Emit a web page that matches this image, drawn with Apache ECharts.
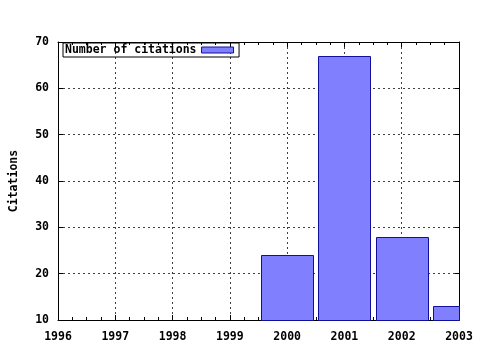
<!DOCTYPE html>
<html>
<head>
<meta charset="utf-8">
<script src="https://cdn.jsdelivr.net/npm/echarts@6/dist/echarts.min.js"></script>
<style>
html,body{margin:0;padding:0;background:#fff;}
#c{width:480px;height:350px;}
</style>
</head>
<body>
<div id="c"></div>
<script>
const years = [2000, 2001, 2002, 2003];
const citations = [24, 67, 28, 13];
const xTicks = [1996, 1997, 1998, 1999, 2000, 2001, 2002, 2003];
const yTicks = [10, 20, 30, 40, 50, 60, 70];
const seriesName = 'Number of citations';
const yTitle = 'Citations';

const font = 'DejaVu Sans Mono';
const fs = 11.5;
const barFrac = 0.915;
const fillColor = '#8080ff';
const edgeColor = '#10109a';
const chart = echarts.init(document.getElementById('c'), null, {renderer: 'canvas'});
const gridLine = {show: true, lineStyle: {color: '#404040', type: [2, 3], width: 1}};
const yMin = yTicks[0];

function renderBar(params, api) {
  const x = api.value(0), y = api.value(1);
  const top = api.coord([x - barFrac / 2, y]);
  const bot = api.coord([x + barFrac / 2, yMin]);
  const cs = params.coordSys;
  const rect = echarts.graphic.clipRectByRect(
    {x: top[0], y: top[1], width: bot[0] - top[0], height: bot[1] - top[1]},
    {x: cs.x, y: cs.y, width: cs.width, height: cs.height}
  );
  if (!rect) return null;
  return {
    type: 'rect',
    shape: {x: Math.round(rect.x) + 0.5, y: Math.round(rect.y) + 0.5, width: Math.round(rect.width), height: Math.round(rect.height)},
    style: {fill: fillColor, stroke: edgeColor, lineWidth: 1}
  };
}

chart.setOption({
  animation: false,
  backgroundColor: '#ffffff',
  grid: {left: 57, right: 21, top: 42, bottom: 30, containLabel: false},
  legend: {
    show: true,
    left: 63, top: 43,
    orient: 'horizontal',
    align: 'right',
    icon: 'rect',
    itemWidth: 32, itemHeight: 6,
    itemGap: 0,
    padding: [1, 5, 1, 2],
    borderColor: '#000', borderWidth: 1,
    itemStyle: {color: fillColor, borderColor: edgeColor, borderWidth: 1},
    textStyle: {fontFamily: font, fontWeight: 'bold', fontSize: fs, color: '#000'},
    data: [seriesName]
  },
  xAxis: [{
    type: 'value', position: 'bottom',
    min: xTicks[0], max: xTicks[xTicks.length - 1], interval: 1,
    axisLine: {onZero: false, lineStyle: {color: '#000', width: 1}},
    axisTick: {inside: true, length: 5, lineStyle: {color: '#000'}},
    minorTick: {show: true, splitNumber: 4, length: 3, lineStyle: {color: '#000'}},
    axisLabel: {margin: 11, fontFamily: font, fontWeight: 'bold', fontSize: fs, color: '#000', formatter: v => String(v)},
    splitLine: gridLine
  }, {
    type: 'value', position: 'top',
    min: xTicks[0], max: xTicks[xTicks.length - 1], interval: 1,
    axisLine: {onZero: false, lineStyle: {color: '#000', width: 1}},
    axisTick: {inside: true, length: 5, lineStyle: {color: '#000'}},
    minorTick: {show: true, splitNumber: 4, length: 3, lineStyle: {color: '#000'}},
    axisLabel: {show: false},
    splitLine: {show: false}
  }],
  yAxis: [{
    type: 'value', position: 'left',
    min: yTicks[0], max: yTicks[yTicks.length - 1], interval: 10,
    name: yTitle, nameLocation: 'middle', nameGap: 38, nameRotate: 90,
    nameTextStyle: {fontFamily: font, fontWeight: 'bold', fontSize: fs, color: '#000'},
    axisLine: {onZero: false, lineStyle: {color: '#000', width: 1}},
    axisTick: {inside: true, length: 5, lineStyle: {color: '#000'}},
    axisLabel: {margin: 9, fontFamily: font, fontWeight: 'bold', fontSize: fs, color: '#000'},
    splitLine: gridLine
  }, {
    type: 'value', position: 'right',
    min: yTicks[0], max: yTicks[yTicks.length - 1], interval: 10,
    axisLine: {show: true, onZero: false, lineStyle: {color: '#000', width: 1}},
    axisTick: {show: true, inside: true, length: 4, lineStyle: {color: '#000'}},
    axisLabel: {show: false},
    splitLine: {show: false}
  }],
  series: [{
    name: seriesName,
    type: 'custom',
    xAxisIndex: 0, yAxisIndex: 0,
    itemStyle: {color: fillColor, borderColor: edgeColor, borderWidth: 1},
    renderItem: renderBar,
    encode: {x: 0, y: 1},
    data: years.map((y, i) => [y, citations[i]])
  }]
});
</script>
</body>
</html>
